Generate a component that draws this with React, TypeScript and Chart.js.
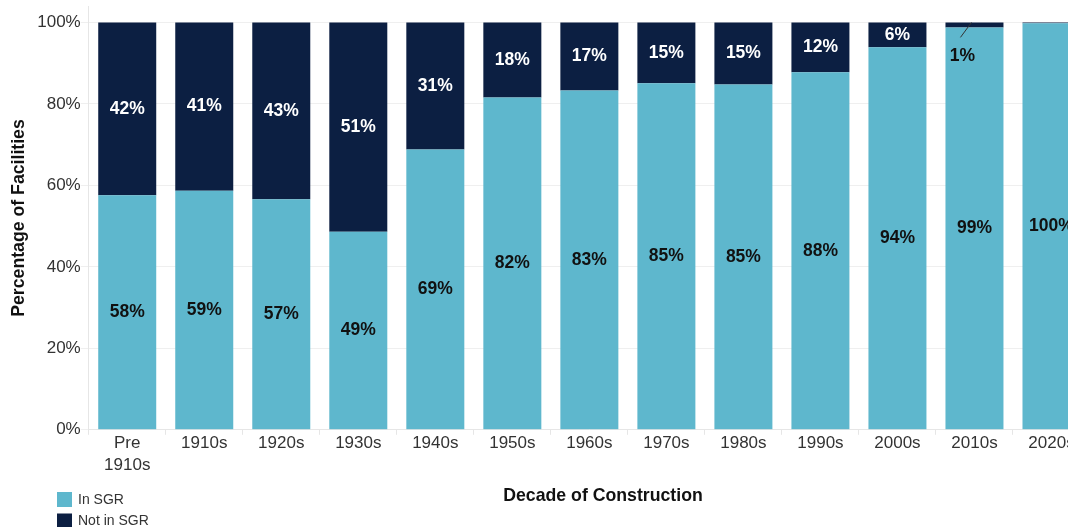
import React, { useEffect, useRef } from 'react';
import { Chart, registerables } from 'chart.js';
Chart.register(...registerables);

const categories: (string | string[])[] = [['Pre', '1910s'], '1910s', '1920s', '1930s', '1940s', '1950s', '1960s', '1970s', '1980s', '1990s', '2000s', '2010s', '2020s'];
const inSGR = [57.6, 58.7, 56.6, 48.6, 68.8, 81.6, 83.3, 85.1, 84.8, 87.8, 93.9, 98.8, 99.8];
const notInSGR = [42.4, 41.3, 43.4, 51.4, 31.2, 18.4, 16.7, 14.9, 15.2, 12.2, 6.1, 1.2, 0.2];
const yTicks = [0, 20, 40, 60, 80, 100];
const xTitle = 'Decade of Construction';

const LIGHT = '#5eb7cd';
const DARK = '#0c1f42';
const FONT = "'Liberation Sans', Arial, sans-serif";

const labelPlugin = {
  id: 'barLabels',
  afterDatasetsDraw(chart: any) {
    const ctx = chart.ctx;
    ctx.save();
    ctx.font = `bold 17.5px ${FONT}`;
    ctx.textAlign = 'center';
    ctx.textBaseline = 'middle';
    chart.data.datasets.forEach((ds: any, di: number) => {
      const meta = chart.getDatasetMeta(di);
      meta.data.forEach((el: any, i: number) => {
        const v = ds.data[i];
        const r = Math.round(v);
        if (r < 1) return;
        const top = Math.min(el.y, el.base);
        const bot = Math.max(el.y, el.base);
        if (bot - top < 14) {
          const lx = el.x - 12;
          const ly = bot + 29;
          ctx.strokeStyle = '#333';
          ctx.lineWidth = 1;
          ctx.beginPath();
          ctx.moveTo(el.x - 14, bot + 10);
          ctx.lineTo(el.x - 3, top);
          ctx.stroke();
          ctx.fillStyle = '#111';
          ctx.fillText(r + '%', lx, ly);
          return;
        }
        ctx.fillStyle = di === 0 ? '#111' : '#ffffff';
        ctx.fillText(r + '%', el.x, (top + bot) / 2);
      });
    });
    ctx.restore();
  },
};

const legendPlugin = {
  id: 'customLegend',
  afterDraw(chart: any) {
    const ctx = chart.ctx;
    ctx.save();
    ctx.font = `bold 17.7px ${FONT}`;
    ctx.textAlign = 'center';
    ctx.textBaseline = 'middle';
    ctx.fillStyle = '#111';
    ctx.fillText(xTitle, 603, 500);
    ctx.font = `14px ${FONT}`;
    ctx.textAlign = 'left';
    chart.data.datasets.forEach((ds: any, i: number) => {
      const y = 496 + i * 21.5;
      ctx.fillStyle = ds.backgroundColor;
      ctx.fillRect(57, y, 15, 15);
      ctx.fillStyle = '#333';
      ctx.fillText(ds.label, 78, y + 8);
    });
    ctx.restore();
  },
};

export default function App() {
  const ref = useRef<HTMLCanvasElement>(null);
  useEffect(() => {
    if (!ref.current) return;
    const chart = new Chart(ref.current, {
      type: 'bar',
      data: {
        labels: categories,
        datasets: [
          { label: 'In SGR', data: inSGR, backgroundColor: LIGHT, categoryPercentage: 1, barPercentage: 0.753 },
          { label: 'Not in SGR', data: notInSGR, backgroundColor: DARK, categoryPercentage: 1, barPercentage: 0.753 },
        ],
      },
      options: {
        animation: false,
        responsive: true,
        maintainAspectRatio: false,
        layout: { padding: { left: 8, right: 0, top: 0, bottom: 54 } },
        plugins: { legend: { display: false }, tooltip: { enabled: false } },
        scales: {
          x: {
            stacked: true,
            grid: { display: true, drawOnChartArea: false, color: '#e6e6e6', tickLength: 5 },
            border: { color: '#e6e6e6' },
            ticks: { color: '#333', font: { family: FONT, size: 17, lineHeight: 1.3 }, padding: -3, maxRotation: 0, autoSkip: false },
            title: { display: false },
          },
          y: {
            stacked: true,
            min: 0,
            max: 104,
            afterBuildTicks: (axis: any) => { axis.ticks = yTicks.map((v) => ({ value: v })); },
            grid: { color: '#efefef', tickLength: 8 },
            border: { color: '#e6e6e6' },
            ticks: { color: '#333', font: { family: FONT, size: 17 }, padding: 0, callback: (v: any) => v + '%' },
            title: { display: true, text: 'Percentage of Facilities', color: '#111', font: { family: FONT, size: 17.7, weight: 'bold' }, padding: { top: 0, bottom: 8 } },
          },
        },
      },
      plugins: [labelPlugin, legendPlugin],
    });
    return () => chart.destroy();
  }, []);
  return (
    <div style={{ position: 'fixed', left: 0, top: 0, width: 1068, height: 527, overflow: 'hidden' }}>
      <div style={{ position: 'absolute', left: 0, top: -4, width: 1090, height: 531 }}>
        <canvas ref={ref} />
      </div>
    </div>
  );
}
